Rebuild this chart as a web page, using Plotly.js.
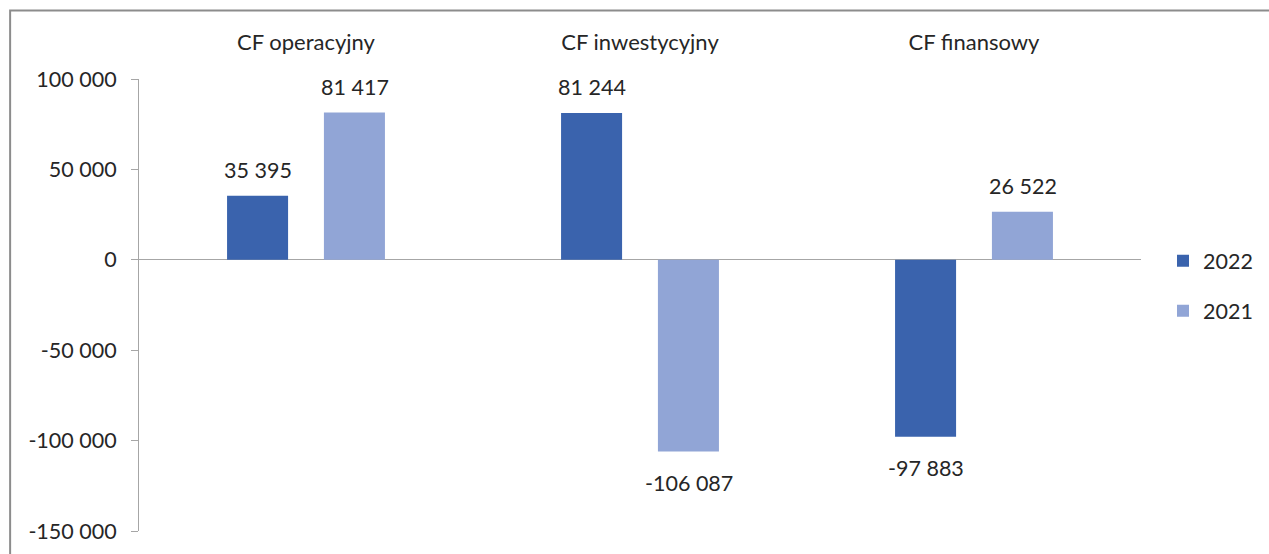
<!DOCTYPE html>
<html>
<head>
<meta charset="utf-8">
<script src="https://cdn.plot.ly/plotly-3.0.1.min.js"></script>
<style>html,body{margin:0;padding:0;background:#fff;}#chart{width:1269px;height:554px;}</style>
</head>
<body>
<div id="chart"></div>
<script>
const categories = ["CF operacyjny", "CF inwestycyjny", "CF finansowy"];
const series2022 = [35395, 81244, -97883];
const series2021 = [81417, -106087, 26522];
const seriesNames = ["2022", "2021"];
const tickValues = [-150000, -100000, -50000, 0, 50000, 100000];
const tickLabels = ["-150 000", "-100 000", "-50 000", "0", "50 000", "100 000"];

const colors = ["#3A63AD", "#91A5D6"];
const FONT = "Lato, 'Open Sans', sans-serif";
const TXT = "#262626";
const FS = 21.5;

function fmt(v) {
  const s = Math.abs(Math.round(v)).toString().replace(/\B(?=(\d{3})+(?!\d))/g, " ");
  return (v < 0 ? "-" : "") + s;
}

const traces = [series2022, series2021].map((vals, i) => ({
  type: "bar",
  name: seriesNames[i],
  x: categories,
  y: vals,
  marker: {color: colors[i]},
  legendgroup: "g" + i,
  hoverinfo: "x+y"
}));

const annotations = [];
[series2022, series2021].forEach((vals, i) => {
  vals.forEach((v, j) => {
    annotations.push({
      x: categories[j], y: v, xref: "x", yref: "y",
      text: fmt(v), showarrow: false,
      xshift: (i === 0 ? -48.5 : 48.5),
      yshift: v >= 0 ? 26 : -31,
      yanchor: "middle", xanchor: "center",
      font: {family: FONT, size: FS, color: TXT}
    });
  });
});

const W = 1269, H = 554, L = 139, R = 1142, T = 79, B = 531.5;
const pw = R - L, ph = B - T;

const layout = {
  width: W, height: H,
  margin: {l: L, r: W - R, t: T, b: H - B, pad: 0},
  paper_bgcolor: "#fff", plot_bgcolor: "#fff",
  barmode: "group", bargap: 0.42, bargroupgap: 0.37,
  showlegend: true,
  legend: {
    x: (1163 - L) / pw, xanchor: "left",
    y: (B - 286) / ph, yanchor: "middle",
    font: {family: FONT, size: FS, color: TXT},
    tracegroupgap: 19, bgcolor: "rgba(0,0,0,0)"
  },
  xaxis: {
    side: "top", type: "category",
    showline: false, showgrid: false, zeroline: false,
    ticks: "outside", ticklen: 19, tickcolor: "rgba(0,0,0,0)",
    tickfont: {family: FONT, size: 22, color: TXT},
    fixedrange: true
  },
  yaxis: {
    range: [-150000, 100000],
    tickvals: tickValues, ticktext: tickLabels,
    showgrid: false,
    showline: true, linecolor: "#A6A6A6", linewidth: 1,
    ticks: "outside", ticklen: 7, tickcolor: "#A6A6A6",
    ticklabelstandoff: 10,
    zeroline: true, zerolinecolor: "#A6A6A6", zerolinewidth: 1,
    tickfont: {family: FONT, size: FS, color: TXT},
    fixedrange: true
  },
  annotations: annotations,
  shapes: [{
    type: "rect", xref: "paper", yref: "paper", layer: "above",
    x0: (10 - L) / pw, x1: (W + 20 - L) / pw,
    y0: (B - (H + 20)) / ph, y1: (B - 10.5) / ph,
    line: {color: "#8C8C8C", width: 2}, fillcolor: "rgba(0,0,0,0)"
  }]
};

Plotly.newPlot("chart", traces, layout, {displayModeBar: false, staticPlot: true});
</script>
</body>
</html>
